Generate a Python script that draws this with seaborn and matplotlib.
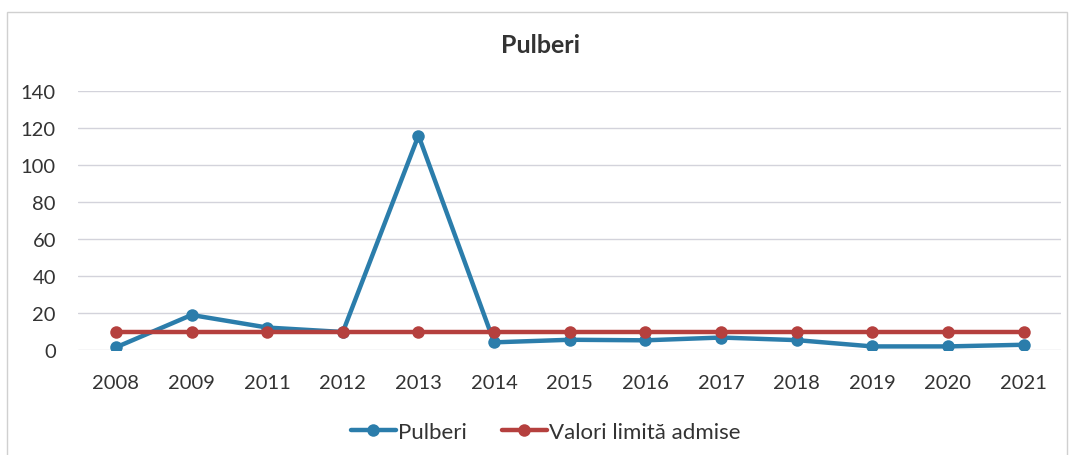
import pandas as pd
import matplotlib
matplotlib.use("Agg")
import matplotlib.pyplot as plt
from matplotlib.patches import Rectangle
import seaborn as sns

years = ["2008", "2009", "2011", "2012", "2013", "2014", "2015",
         "2016", "2017", "2018", "2019", "2020", "2021"]
pulberi = [1.5, 19, 12.2, 9.8, 116, 4.2, 5.6, 5.3, 6.8, 5.4, 2.0, 2.0, 2.9]
limita = [10] * len(years)
series_names = ["Pulberi", "Valori limită admise"]
colors = ["#2b7dab", "#b5403e"]

df = pd.concat([
    pd.DataFrame({"an": years, "valoare": pulberi, "serie": series_names[0]}),
    pd.DataFrame({"an": years, "valoare": limita, "serie": series_names[1]}),
])

sns.set_style("white")
plt.rcParams["font.family"] = ["Lato", "DejaVu Sans"]

fig = plt.figure(figsize=(10.7, 4.56), dpi=100)
ax = fig.add_axes([0.073, 0.230, 0.919, 0.568])

sns.lineplot(data=df, x="an", y="valoare", hue="serie", palette=colors,
             marker="o", markersize=9, markeredgewidth=0, linewidth=3.2,
             sort=False, ax=ax)

ax.set_xlim(-0.5, len(years) - 0.5)
ax.set_ylim(0, 140)
ax.set_yticks(range(0, 141, 20))
ax.grid(axis="y", color="#d3d3db", linewidth=1)
ax.set_axisbelow(True)
for s in ax.spines.values():
    s.set_visible(False)
ax.tick_params(axis="both", length=0, labelsize=14.5, colors="#333333")
ax.tick_params(axis="x", pad=17)
ax.tick_params(axis="y", pad=16)
ax.set_xlabel("")
ax.set_ylabel("")

fig.text(0.505, 0.9, "Pulberi", ha="center", va="center", fontsize=18,
         fontweight="bold", color="#333333")

handles, labels = ax.get_legend_handles_labels()
ax.legend(handles, labels, loc="center", bbox_to_anchor=(0.51, 0.05),
          bbox_transform=fig.transFigure, ncol=2, frameon=False,
          fontsize=16, handlelength=2.0, handletextpad=0.1,
          columnspacing=1.6, labelcolor="#333333")

fig.add_artist(Rectangle((0.007, -0.01), 0.99, 0.982,
                         transform=fig.transFigure, fill=False,
                         edgecolor="#d0d0d0", linewidth=1))

fig.savefig("out.png", dpi=100)
